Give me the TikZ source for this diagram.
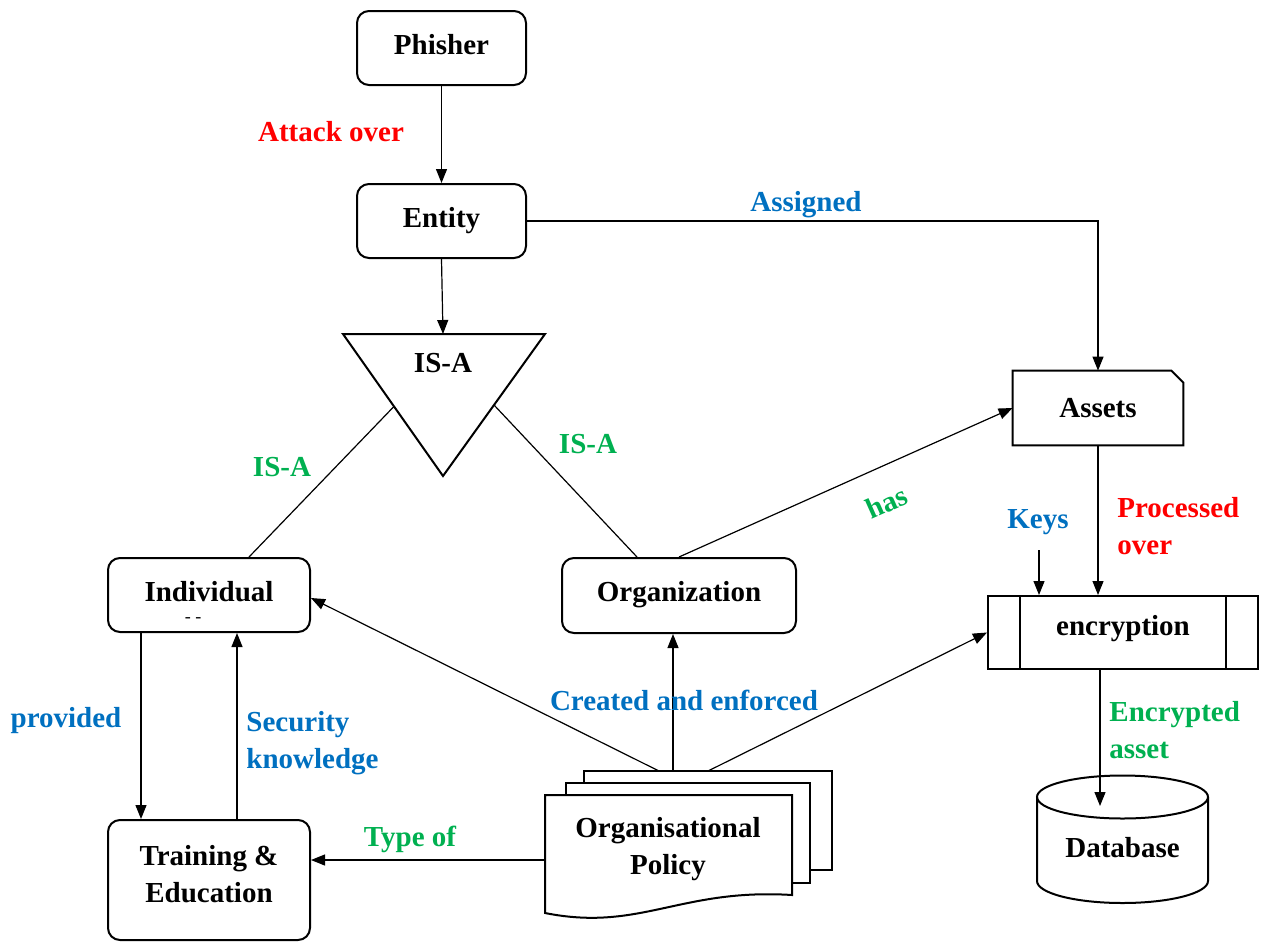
\documentclass[tikz,border=0pt]{standalone}
\usepackage{fontspec}
\setmainfont{Liberation Serif}
\usetikzlibrary{arrows.meta,calc}
\definecolor{myred}{HTML}{FF0000}
\definecolor{myblue}{HTML}{0070C0}
\definecolor{mygreen}{HTML}{00B050}
\begin{document}
\begin{tikzpicture}[x=0.5pt,y=-0.5pt,
 every node/.style={font=\fontsize{14.5}{18.5}\selectfont\bfseries},
 box/.style={draw, line width=1pt, rounded corners=6pt, align=center, inner sep=0pt, text height=10pt, text depth=4pt},
 conn/.style={line width=0.6pt, -{Triangle[length=7pt,width=5.5pt]}},
 plain/.style={line width=0.6pt},
 lbl/.style={inner sep=0pt, align=left},
 shp/.style={draw, line width=1pt, fill=white, line join=miter}]
\useasboundingbox (0,0) rectangle (1264,943);

% boxes
\node[box, minimum width=84.5pt, minimum height=37pt] (phisher) at (441.5,48) {Phisher};
\node[box, minimum width=84.5pt, minimum height=37pt] (entity) at (441.5,221) {Entity};
\node[box, minimum width=101pt, minimum height=37pt] (ind) at (209,595) {Individual};
\node[inner sep=0pt, font=\fontsize{9}{10}\selectfont] (inddash) at (193,620) {- -};
\node[box, minimum width=117pt, minimum height=37.5pt] (org) at (679,595.5) {Organization};
\node[draw, line width=1pt, rounded corners=6pt, minimum width=101pt, minimum height=60pt, inner sep=0pt] (tr) at (209,880) {};
\node[align=center, inner sep=0pt] (trtext) at (209,874) {Training \&\\Education};

% IS-A triangle
\coordinate (tl) at (343,334);
\coordinate (tr2) at (545,334);
\coordinate (tb) at (443,476);
\draw[shp] (tl) -- (tr2) -- (tb) -- cycle;
\node (isa) at (443,363) {IS-A};
\coordinate (isatop) at (443,334);
\coordinate (isal) at ($(tl)!0.51!(tb)$);
\coordinate (isar) at ($(tr2)!0.5!(tb)$);

% Assets (cut corner)
\node[minimum width=85pt, minimum height=37pt, inner sep=0pt] (assets) at (1098,408) {};
\draw[shp] (assets.south west) -- (assets.north west) -- ([xshift=-6pt]assets.north east)
  -- ([yshift=-6pt]assets.north east) -- (assets.south east) -- cycle;
\node (assetstext) at (assets.center) {Assets};

% encryption
\node[draw, line width=1pt, minimum width=135pt, minimum height=36.5pt, inner sep=0pt, text height=10pt, text depth=7pt] (enc) at (1123,632.5) {encryption};
\draw[line width=1pt] ([xshift=16.5pt]enc.north west) -- ([xshift=16.5pt]enc.south west);
\draw[line width=1pt] ([xshift=-16.5pt]enc.north east) -- ([xshift=-16.5pt]enc.south east);

% Database cylinder
\draw[line width=1pt] (1122.5,797) ellipse [x radius=85.5, y radius=21.5];
\draw[line width=1pt] (1037,797) -- (1037,881) arc[start angle=180, end angle=0, x radius=85.5, y radius=22] -- (1208,797);
\node (db) at (1122.5,848) {Database};
\coordinate (dbtop) at (1100,806);

% Organisational policy (stacked documents)
\draw[shp] (584,771) rectangle (832,870);
\draw[shp] (566,783) rectangle (810,883);
\draw[shp] (545,795) -- (792,795) -- (792,895) .. controls (680,888) and (640,932) .. (545,913) -- cycle;
\node[align=center] (pol) at (668,849) {Organisational\\Policy};
\coordinate (p1) at (659,771);
\coordinate (p2) at (673,771);
\coordinate (p3) at (708,771);
\coordinate (polleft) at (545,860);

% connectors
\draw[conn] (phisher.south) -- (entity.north);
\draw[conn] (entity.south) -- (isatop);
\draw[conn] (entity.east) -| (assets.north);
\draw[plain] (isal) -- ($(ind.north west)+(142,0)$);
\draw[plain] (isar) -- ($(org.north west)+(76,0)$);
\draw[conn] (org.north) -- (assets.west);
\draw[conn] (assets.south) -- (assets.south |- enc.north);
\coordinate (keys) at (1039,550);
\draw[conn] (keys) -- (keys |- enc.north);
\draw[conn] (dbtop |- enc.south) -- (dbtop);
\draw[conn] ($(ind.south west)+(34,0)$) -- ($(tr.north west)+(34,0)$);
\draw[conn] ($(tr.north west)+(130,0)$) -- ($(ind.south west)+(130,0)$);
\draw[conn] (p1) -- ([yshift=-1.5pt]ind.east);
\draw[conn] (p2) -- (p2 |- org.south);
\draw[conn] (p3) -- (enc.west);
\draw[conn] (polleft) -- (tr.east |- polleft);

% labels
\node[lbl, text=myred] (l1) at (331,132) {Attack over};
\node[lbl, text=myblue] (l2) at (806,205) {Assigned};
\node[lbl, text=mygreen] (l3) at (282,467) {IS-A};
\node[lbl, text=mygreen] (l4) at (588,444) {IS-A};
\node[lbl, text=mygreen, rotate=24] (l5) at (887,502) {has};
\node[lbl, text=myblue] (l6) at (1038,522) {Keys};
\node[lbl, text=myred, anchor=west] (l7) at (1117,526) {Processed\\over};
\node[lbl, text=myblue] (l8) at (684,700) {Created and enforced};
\node[lbl, text=myblue] (l9) at (66,721) {provided};
\node[lbl, text=myblue, anchor=west] (l10) at (246,743) {Security\\knowledge};
\node[lbl, text=mygreen, anchor=west] (l11) at (1109,730) {Encrypted\\asset};
\node[lbl, text=mygreen] (l12) at (410,839) {Type of};
\end{tikzpicture}
\end{document}
